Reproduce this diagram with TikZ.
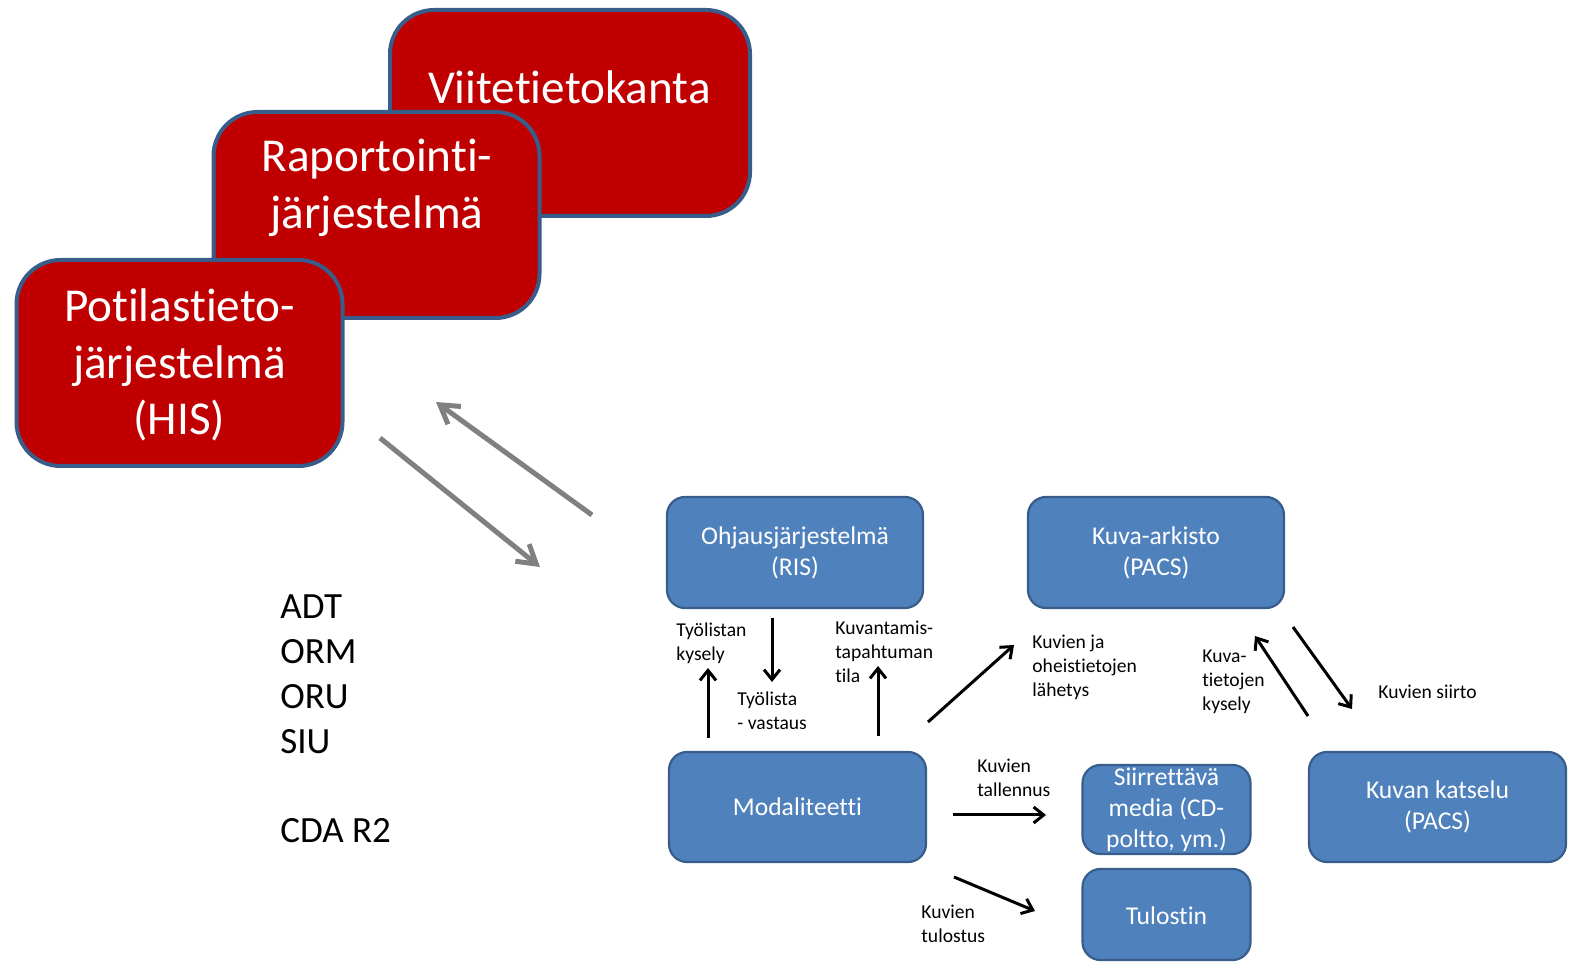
\documentclass[tikz,border=0pt]{standalone}
\usepackage{fontspec}
\setmainfont{Carlito}[Ligatures=NoCommon]
\usetikzlibrary{arrows.meta}
\definecolor{boxred}{HTML}{C00000}
\definecolor{boxblue}{HTML}{4F81BD}
\definecolor{edgeblue}{HTML}{385D8A}
\definecolor{flowgray}{HTML}{808080}
\begin{document}
\begin{tikzpicture}[x=0.5pt,y=-0.5pt,
  redbox/.style={draw=edgeblue, line width=2pt, fill=boxred, rounded corners=22pt, inner sep=0pt},
  bigtxt/.style={text=white, font=\fontsize{23.6}{28.3}\selectfont, align=center, inner sep=0pt},
  bluebox/.style={draw=edgeblue, line width=1.1pt, fill=boxblue, rounded corners=9pt, inner sep=0pt,
    text=white, font=\fontsize{12.8}{15.5}\selectfont, align=center},
  bluetxt/.style={text=white, font=\fontsize{12.8}{15.5}\selectfont, align=center, inner sep=0pt},
  lbl/.style={font=\fontsize{9.8}{12}\selectfont, align=left, anchor=west, inner sep=0pt},
  codes/.style={font=\fontsize{18.5}{22.5}\selectfont, align=left, anchor=west, inner sep=0pt},
  flow/.style={draw=flowgray, line width=2.5pt, -{Straight Barb[length=9pt,width=11pt]}},
  link/.style={draw=black, line width=1.5pt, -{Straight Barb[length=5pt,width=8pt]}},
]
\useasboundingbox (0,0) rectangle (1571,962);

% stacked hospital systems
\node[redbox, minimum width=180pt, minimum height=103pt] (viite) at (570,113) {};
\node[bigtxt] (viitetxt) at (569.5,87) {Viitetietokanta};
\node[redbox, minimum width=163pt, minimum height=103pt] (rap) at (376.5,215) {};
\node[bigtxt] (raptxt) at (377,188) {Raportointi-\\järjestelmä};
\node[redbox, minimum width=163pt, minimum height=103pt] (pot) at (179.5,363) {};
\node[bigtxt] (pottxt) at (179.5,365) {Potilastieto-\\järjestelmä\\(HIS)};

% message standards
\node[codes] (msgs) at (280,674) {ADT\\ORM\\ORU\\SIU};
\node[codes] (cda) at (280,831) {CDA R2};

% exchange between HIS and imaging
\coordinate (g1s) at (592,515);
\coordinate (g1e) at (436,402);
\coordinate (g2s) at (380,438);
\coordinate (g2e) at (540,567);
\draw[flow] (g1s) -- (g1e);
\draw[flow] (g2s) -- (g2e);

% imaging systems
\node[bluebox, minimum width=128pt, minimum height=55.5pt] (ris) at (795,552.5) {Ohjausjärjestelmä\\(RIS)};
\node[bluebox, minimum width=128pt, minimum height=55.5pt] (pacs) at (1156,552.5) {Kuva-arkisto\\(PACS)};
\node[bluebox, minimum width=128.5pt, minimum height=55pt] (mod) at (797.5,807) {Modaliteetti};
\node[bluebox, minimum width=84pt, minimum height=44.5pt] (media) at (1166.5,809.5) {};
\node[bluetxt] (mediatxt) at (1166.5,810) {Siirrettävä\\media (CD-\\poltto, ym.)};
\node[bluebox, minimum width=84pt, minimum height=45.5pt] (print) at (1166.5,914.5) {};
\node[bluetxt] (printtxt) at (1166.5,916) {Tulostin};
\node[bluebox, minimum width=128.5pt, minimum height=55pt] (view) at (1437.5,807) {Kuvan katselu\\(PACS)};

% data flows
\coordinate (a1s) at (708,738);  \coordinate (a1e) at (708,668);
\coordinate (a2s) at (772,618);  \coordinate (a2e) at (772,682);
\coordinate (a3s) at (878,736);  \coordinate (a3e) at (878,666);
\coordinate (a4s) at (928,722);  \coordinate (a4e) at (1014,645);
\coordinate (a5s) at (1308,716); \coordinate (a5e) at (1255,636);
\coordinate (a6s) at (1293,627); \coordinate (a6e) at (1352,709);
\coordinate (a7s) at (953,815);  \coordinate (a7e) at (1046,815);
\coordinate (a8s) at (954,877);  \coordinate (a8e) at (1035,911);
\draw[link] (a1s) -- (a1e);
\draw[link] (a2s) -- (a2e);
\draw[link] (a3s) -- (a3e);
\draw[link] (a4s) -- (a4e);
\draw[link] (a5s) -- (a5e);
\draw[link] (a6s) -- (a6e);
\draw[link] (a7s) -- (a7e);
\draw[link] (a8s) -- (a8e);

% flow labels
\node[lbl] (l1) at (676,643) {Työlistan\\kysely};
\node[lbl] (l2) at (737,711) {Työlista\\- vastaus};
\node[lbl] (l3) at (835,652) {Kuvantamis-\\tapahtuman\\tila};
\node[lbl] (l4) at (1032,667) {Kuvien ja\\oheistietojen\\lähetys};
\node[lbl] (l5) at (1202,682) {Kuva-\\tietojen\\kysely};
\node[lbl] (l6) at (1378,692) {Kuvien siirto};
\node[lbl] (l7) at (977,778) {Kuvien\\tallennus};
\node[lbl] (l8) at (921,924) {Kuvien\\tulostus};
\end{tikzpicture}
\end{document}
